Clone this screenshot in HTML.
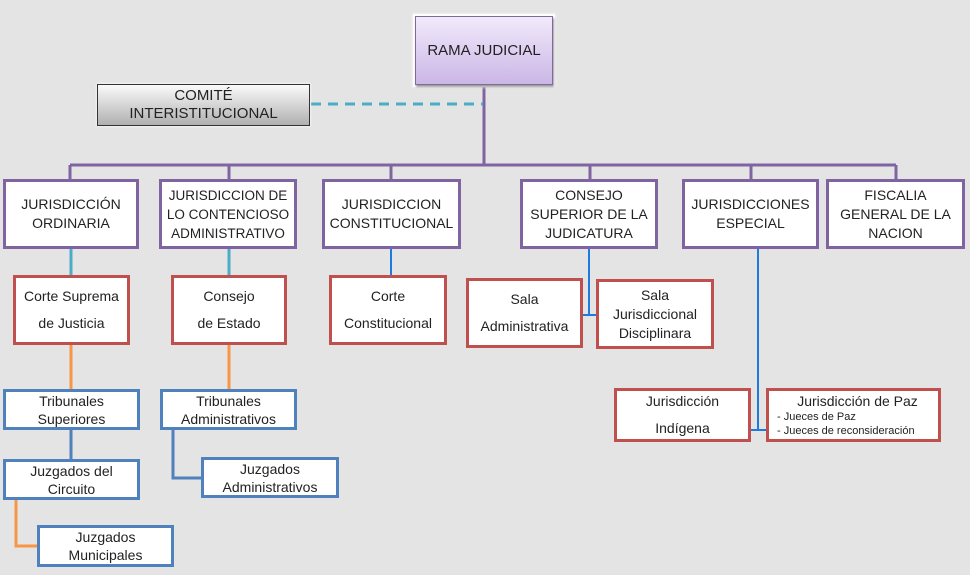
<!DOCTYPE html>
<html><head><meta charset="utf-8"><style>
body{margin:0;width:970px;height:575px;background:#e4e4e4;position:relative;overflow:hidden;font-family:"Liberation Sans",sans-serif;color:#222}
.b{position:absolute;box-sizing:border-box;background:#fff;display:flex;align-items:center;justify-content:center;text-align:center;font-size:14px;line-height:19px}
.p{border:3px solid #8064a2}
.r{border:3px solid #c0504d}
.u{border:3px solid #4f81bd;line-height:18px}
.l{position:absolute}
</style></head><body>
<svg class="l" width="970" height="575" style="left:0;top:0">
<g stroke="#8064a2" stroke-width="3" fill="none">
<line x1="484" y1="85" x2="484" y2="165"/>
<line x1="70" y1="165" x2="896" y2="165"/>
<line x1="70" y1="165" x2="70" y2="179"/><line x1="229" y1="165" x2="229" y2="179"/><line x1="391" y1="165" x2="391" y2="179"/><line x1="590" y1="165" x2="590" y2="179"/><line x1="751" y1="165" x2="751" y2="179"/><line x1="896" y1="165" x2="896" y2="179"/>
</g>
<line x1="311" y1="104" x2="483" y2="104" stroke="#4bacc6" stroke-width="3" stroke-dasharray="10,7"/>
<g stroke="#4bacc6" stroke-width="3"><line x1="71" y1="249" x2="71" y2="275"/><line x1="229" y1="249" x2="229" y2="275"/></g>
<g stroke="#1f7ae0" stroke-width="2" fill="none"><line x1="391" y1="249" x2="391" y2="275"/>
<polyline points="589,249 589,315"/><line x1="583" y1="315" x2="597" y2="315"/>
<polyline points="758,249 758,430"/><line x1="751" y1="430" x2="767" y2="430"/></g>
<g stroke="#f79646" stroke-width="3" fill="none"><line x1="71" y1="345" x2="71" y2="389"/><line x1="229" y1="345" x2="229" y2="389"/>
<polyline points="16,500 16,546 38,546"/></g>
<g stroke="#4f81bd" stroke-width="3" fill="none"><line x1="71" y1="430" x2="71" y2="459"/><polyline points="173,430 173,478 202,478"/></g>
</svg>
<div class="b" style="left:413px;top:14px;width:142px;height:73px;background:#fff;box-shadow:0 0 3px #fff"></div>
<div class="b" style="left:415px;top:16px;width:138px;height:69px;border:1px solid #7f6a9a;background:linear-gradient(#f1eafb,#cbb6e6);font-size:15px;box-shadow:1px 2px 2px #999">RAMA JUDICIAL</div>
<div class="b" style="left:97px;top:84px;width:213px;height:42px;border:1px solid #333;background:linear-gradient(#fafafa,#b0b0b0);font-size:15px;line-height:18px;box-shadow:0 0 3px #fff">COMITÉ<br>INTERISTITUCIONAL</div>
<div class="b p" style="left:3px;top:179px;width:136px;height:70px">JURISDICCIÓN<br>ORDINARIA</div>
<div class="b p" style="left:159px;top:179px;width:138px;height:70px;font-size:13.5px">JURISDICCION DE<br>LO CONTENCIOSO<br>ADMINISTRATIVO</div>
<div class="b p" style="left:322px;top:179px;width:139px;height:70px">JURISDICCION<br>CONSTITUCIONAL</div>
<div class="b p" style="left:520px;top:179px;width:138px;height:70px">CONSEJO<br>SUPERIOR DE LA<br>JUDICATURA</div>
<div class="b p" style="left:682px;top:179px;width:137px;height:70px;align-items:flex-start;padding-top:13px">JURISDICCIONES<br>ESPECIAL</div>
<div class="b p" style="left:826px;top:179px;width:139px;height:70px">FISCALIA<br>GENERAL DE LA<br>NACION</div>
<div class="b r" style="left:13px;top:275px;width:117px;height:70px;line-height:27px">Corte Suprema<br>de Justicia</div>
<div class="b r" style="left:171px;top:275px;width:116px;height:70px;line-height:27px">Consejo<br>de Estado</div>
<div class="b r" style="left:329px;top:275px;width:118px;height:70px;line-height:27px">Corte<br>Constitucional</div>
<div class="b r" style="left:466px;top:278px;width:117px;height:70px;line-height:27px">Sala<br>Administrativa</div>
<div class="b r" style="left:596px;top:279px;width:118px;height:70px">Sala<br>Jurisdiccional<br>Disciplinara</div>
<div class="b r" style="left:614px;top:388px;width:137px;height:54px;line-height:27px">Jurisdicción<br>Indígena</div>
<div class="b r" style="left:766px;top:388px;width:175px;height:54px;display:block;text-align:left;padding:3px 0 0 8px;line-height:14px"><div style="text-align:center;font-size:14px;margin-bottom:2px">Jurisdicción de Paz</div><div style="font-size:11px">- Jueces de Paz<br>- Jueces de reconsideración</div></div>
<div class="b u" style="left:3px;top:389px;width:137px;height:41px">Tribunales<br>Superiores</div>
<div class="b u" style="left:3px;top:459px;width:137px;height:41px">Juzgados del<br>Circuito</div>
<div class="b u" style="left:37px;top:525px;width:137px;height:42px">Juzgados<br>Municipales</div>
<div class="b u" style="left:160px;top:389px;width:137px;height:41px">Tribunales<br>Administrativos</div>
<div class="b u" style="left:201px;top:457px;width:138px;height:41px">Juzgados<br>Administrativos</div>
</body></html>
